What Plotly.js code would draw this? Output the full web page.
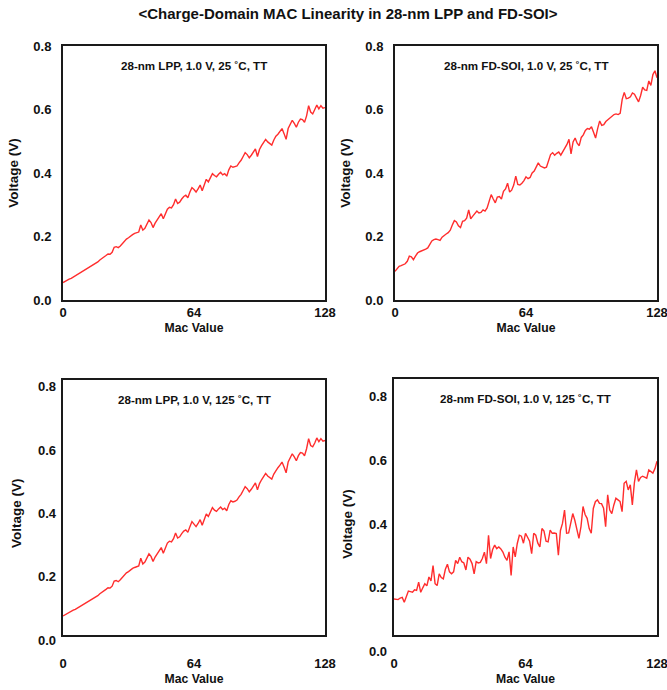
<!DOCTYPE html>
<html>
<head>
<meta charset="utf-8">
<script src="https://cdn.plot.ly/plotly-3.0.1.min.js"></script>
<style>html,body{margin:0;padding:0;background:#fff}#chart{width:667px;height:690px}</style>
</head>
<body>
<div id="chart"></div>
<script>
// ---------------- DATA ----------------
const macValue = [0,1,2,3,4,5,6,7,8,9,10,11,12,13,14,15,16,17,18,19,20,21,22,23,24,25,26,27,28,29,30,31,32,33,34,35,36,37,38,39,40,41,42,43,44,45,46,47,48,49,50,51,52,53,54,55,56,57,58,59,60,61,62,63,64,65,66,67,68,69,70,71,72,73,74,75,76,77,78,79,80,81,82,83,84,85,86,87,88,89,90,91,92,93,94,95,96,97,98,99,100,101,102,103,104,105,106,107,108,109,110,111,112,113,114,115,116,117,118,119,120,121,122,123,124,125,126,127,128];

const lpp25 = [0.055,0.059,0.062,0.066,0.068,0.072,0.075,0.080,0.083,0.088,0.092,0.095,0.100,0.104,0.108,0.111,0.116,0.120,0.126,0.130,0.136,0.140,0.145,0.144,0.150,0.166,0.168,0.165,0.170,0.178,0.186,0.192,0.196,0.202,0.206,0.210,0.212,0.214,0.236,0.220,0.226,0.240,0.252,0.244,0.228,0.242,0.252,0.262,0.272,0.256,0.270,0.286,0.292,0.290,0.300,0.318,0.304,0.308,0.318,0.326,0.330,0.322,0.340,0.354,0.348,0.340,0.350,0.362,0.344,0.366,0.380,0.372,0.388,0.398,0.392,0.388,0.396,0.402,0.394,0.398,0.390,0.410,0.422,0.418,0.420,0.422,0.432,0.440,0.452,0.464,0.458,0.448,0.456,0.466,0.476,0.452,0.474,0.486,0.496,0.506,0.498,0.492,0.488,0.504,0.516,0.522,0.530,0.540,0.524,0.506,0.540,0.556,0.566,0.556,0.544,0.560,0.570,0.568,0.560,0.580,0.612,0.592,0.586,0.600,0.614,0.602,0.612,0.604,0.606];

const fdsoi25 = [0.090,0.100,0.106,0.108,0.110,0.114,0.122,0.138,0.136,0.127,0.138,0.148,0.152,0.154,0.156,0.160,0.164,0.176,0.186,0.190,0.192,0.190,0.188,0.198,0.204,0.208,0.212,0.220,0.236,0.250,0.246,0.234,0.228,0.248,0.250,0.258,0.284,0.256,0.264,0.274,0.280,0.274,0.276,0.284,0.280,0.290,0.312,0.332,0.318,0.306,0.324,0.326,0.318,0.342,0.350,0.368,0.340,0.346,0.362,0.390,0.364,0.362,0.368,0.376,0.388,0.382,0.386,0.400,0.406,0.420,0.432,0.422,0.418,0.416,0.418,0.436,0.458,0.464,0.456,0.462,0.466,0.456,0.468,0.476,0.490,0.506,0.460,0.498,0.510,0.494,0.486,0.512,0.520,0.534,0.540,0.538,0.546,0.528,0.510,0.540,0.564,0.550,0.552,0.562,0.568,0.574,0.578,0.584,0.586,0.584,0.588,0.632,0.654,0.634,0.636,0.640,0.652,0.648,0.636,0.624,0.644,0.670,0.662,0.660,0.690,0.676,0.710,0.722,0.700];

const lpp125 = [0.076,0.080,0.083,0.088,0.090,0.094,0.097,0.101,0.104,0.109,0.112,0.116,0.120,0.124,0.128,0.131,0.135,0.140,0.146,0.150,0.156,0.160,0.165,0.164,0.170,0.186,0.188,0.184,0.190,0.198,0.206,0.212,0.216,0.222,0.226,0.229,0.232,0.234,0.258,0.240,0.246,0.260,0.272,0.264,0.248,0.262,0.272,0.282,0.292,0.274,0.290,0.306,0.312,0.310,0.320,0.338,0.322,0.326,0.336,0.344,0.348,0.340,0.358,0.374,0.366,0.358,0.368,0.380,0.362,0.384,0.398,0.390,0.406,0.418,0.410,0.406,0.414,0.420,0.412,0.416,0.408,0.428,0.440,0.436,0.438,0.442,0.452,0.460,0.472,0.484,0.478,0.468,0.476,0.488,0.496,0.474,0.494,0.506,0.516,0.526,0.518,0.512,0.508,0.524,0.536,0.544,0.552,0.562,0.546,0.528,0.562,0.578,0.588,0.578,0.566,0.582,0.592,0.590,0.582,0.604,0.636,0.614,0.610,0.622,0.638,0.626,0.636,0.628,0.630];

const fdsoi125 = [0.165,0.164,0.163,0.168,0.170,0.155,0.174,0.190,0.188,0.186,0.194,0.192,0.218,0.186,0.200,0.213,0.206,0.234,0.222,0.270,0.213,0.207,0.244,0.232,0.228,0.258,0.274,0.250,0.244,0.250,0.286,0.276,0.296,0.282,0.278,0.256,0.296,0.290,0.276,0.244,0.282,0.278,0.280,0.292,0.312,0.276,0.365,0.292,0.320,0.334,0.323,0.328,0.322,0.312,0.296,0.286,0.313,0.239,0.328,0.297,0.339,0.365,0.362,0.340,0.371,0.360,0.346,0.307,0.371,0.365,0.340,0.328,0.386,0.378,0.346,0.344,0.381,0.371,0.372,0.370,0.302,0.380,0.402,0.444,0.371,0.372,0.404,0.433,0.412,0.386,0.355,0.392,0.455,0.430,0.418,0.386,0.371,0.449,0.470,0.476,0.465,0.464,0.450,0.392,0.492,0.444,0.433,0.460,0.481,0.476,0.471,0.439,0.528,0.534,0.507,0.523,0.460,0.530,0.570,0.534,0.546,0.550,0.548,0.544,0.570,0.565,0.560,0.574,0.597];

const panelTitles = ['28-nm LPP, 1.0 V, 25 \u02DAC, TT','28-nm FD-SOI, 1.0 V, 25 \u02DAC, TT','28-nm LPP, 1.0 V, 125 \u02DAC, TT','28-nm FD-SOI, 1.0 V, 125 \u02DAC, TT'];
const chartTitle = '<Charge-Domain MAC Linearity in 28-nm LPP and FD-SOI>';
const xTitle = 'Mac Value';
const yTitle = 'Voltage (V)';
const xTickVals = [0,64,128];
const xTickText = ['0','64','128'];
const yTickVals = [0,0.2,0.4,0.6,0.8];
const yTickText = ['0.0','0.2','0.4','0.6','0.8'];

// ---------------- STYLE / LAYOUT ----------------
const W = 667, H = 690;
const px = v => v / W;
const py = v => 1 - v / H;
const SANS = '"Liberation Sans", Arial, sans-serif';
const tickFont = {family: SANS, size: 13, color: '#111', weight: 700};
const xTitleFont = {family: SANS, size: 12.2, color: '#111', weight: 700};
const yTitleFont = {family: SANS, size: 13.5, color: '#111', weight: 700};
const lineStyle = {color: '#ff2d2d', width: 1.4};

function frameX(dom, anchor, standoff) {
  return {domain: dom, anchor: anchor, range: [0, 128], tickvals: xTickVals, ticktext: xTickText,
    showline: true, mirror: true, linecolor: '#1a1a1a', linewidth: 2, showgrid: false, zeroline: false,
    ticks: '', ticklabelstandoff: standoff, ticklabeloverflow: 'allow', tickfont: tickFont, automargin: false,
    title: {text: xTitle, font: xTitleFont, standoff: 5}};
}
function frameY(dom, anchor, range, labels) {
  const a = {domain: dom, anchor: anchor, range: range, showline: true, mirror: true,
    linecolor: '#1a1a1a', linewidth: 2, showgrid: false, zeroline: false, ticks: '', automargin: false};
  if (labels) {
    Object.assign(a, {tickvals: yTickVals, ticktext: yTickText, tickfont: tickFont, ticklabelstandoff: 7,
      title: {text: yTitle, font: yTitleFont, standoff: 12}});
  } else {
    Object.assign(a, {showticklabels: false, tickvals: yTickVals});
  }
  return a;
}
function labelY(dom, pos) {
  return {domain: dom, anchor: 'free', position: pos, range: [0, 0.8], tickvals: yTickVals, ticktext: yTickText,
    tickfont: tickFont, ticklabelstandoff: 7, showline: false, showgrid: false, zeroline: false, ticks: '',
    automargin: false, title: {text: yTitle, font: yTitleFont, standoff: 12}};
}

const traces = [
  {x: macValue, y: lpp25, xaxis: 'x', yaxis: 'y', mode: 'lines', line: lineStyle, name: panelTitles[0]},
  {x: macValue, y: fdsoi25, xaxis: 'x2', yaxis: 'y2', mode: 'lines', line: lineStyle, name: panelTitles[1]},
  {x: macValue, y: lpp125, xaxis: 'x3', yaxis: 'y3', mode: 'lines', line: lineStyle, name: panelTitles[2]},
  {x: macValue, y: fdsoi125, xaxis: 'x4', yaxis: 'y4', mode: 'lines', line: lineStyle, name: panelTitles[3]},
  {x: [null], y: [null], xaxis: 'x3', yaxis: 'y5', mode: 'lines', hoverinfo: 'skip', showlegend: false},
  {x: [null], y: [null], xaxis: 'x4', yaxis: 'y6', mode: 'lines', hoverinfo: 'skip', showlegend: false}
];

const layout = {
  width: W, height: H, margin: {l: 0, r: 0, t: 0, b: 0},
  paper_bgcolor: '#fff', plot_bgcolor: 'rgba(0,0,0,0)', showlegend: false,
  title: {text: chartTitle, font: {family: SANS, size: 15, color: '#111', weight: 700},
    x: px(348), xanchor: 'center', y: py(14), yanchor: 'middle'},
  xaxis: frameX([px(63), px(325)], 'y', -1),
  yaxis: frameY([py(300), py(46)], 'x', [0, 0.8], true),
  xaxis2: frameX([px(395), px(657)], 'y2', -1),
  yaxis2: frameY([py(300), py(46)], 'x2', [0, 0.8], true),
  xaxis3: frameX([px(63), px(325)], 'y3', 15),
  yaxis3: frameY([py(635), py(380)], 'x3', [0.0158, 0.821], false),
  xaxis4: frameX([px(394), px(657)], 'y4', 15),
  yaxis4: frameY([py(635), py(379)], 'x4', [0.052, 0.855], false),
  yaxis5: labelY([py(640), py(386.7)], px(63)),
  yaxis6: labelY([py(651.5), py(396.5)], px(394)),
  annotations: panelTitles.map((t, i) => ({
    text: t, showarrow: false, xref: (i === 0 ? 'x' : 'x' + (i + 1)) + ' domain', x: 0.5, xanchor: 'center',
    yref: (i === 0 ? 'y' : 'y' + (i + 1)) + ' domain', y: 1, yanchor: 'middle', yshift: -19,
    font: {family: SANS, size: 11.6, color: '#111', weight: 700}
  }))
};

Plotly.newPlot('chart', traces, layout, {staticPlot: true, displayModeBar: false});
</script>
</body>
</html>
